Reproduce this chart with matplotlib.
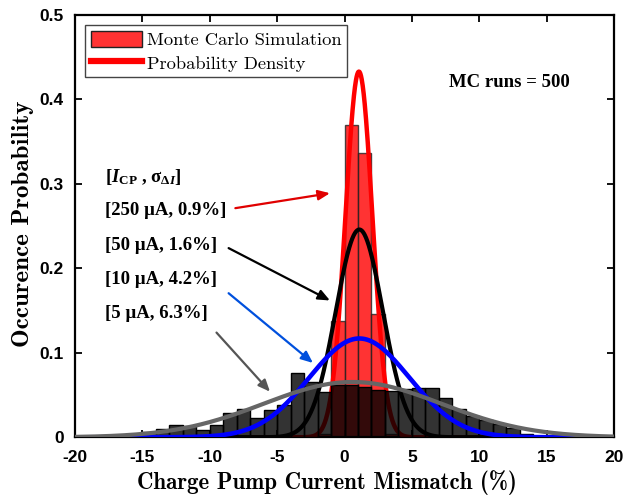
import numpy as np
import matplotlib
matplotlib.use("Agg")
import matplotlib.pyplot as plt
from matplotlib.patches import Patch
from matplotlib.lines import Line2D

# ---------------- data ----------------
# 5 uA Monte Carlo histogram (bin left edges, bin width 1 %)
wide_bin_left = [-15, -14, -13, -12, -11, -10, -9, -8, -7, -6, -5, -4, -3, -2, -1,
                 0, 1, 2, 3, 4, 5, 6, 7, 8, 9, 10, 11, 12, 13]
wide_bin_prob = [0.006, 0.010, 0.015, 0.013, 0.009, 0.015, 0.029, 0.033, 0.023, 0.032,
                 0.038, 0.076, 0.065, 0.054, 0.062, 0.062, 0.060, 0.056, 0.055, 0.057,
                 0.058, 0.058, 0.046, 0.034, 0.025, 0.020, 0.016, 0.011, 0.004]
# 250 uA Monte Carlo histogram
narrow_bin_left = [-2, -1, 0, 1, 2, 3]
narrow_bin_prob = [0.004, 0.138, 0.370, 0.337, 0.146, 0.004]

# fitted probability densities: (mean, sigma, peak)
curve_names = ["250uA", "50uA", "10uA", "5uA"]
curve_mean = [1.07, 1.10, 1.10, 0.60]
curve_sigma = [1.00, 1.75, 3.70, 6.60]
curve_peak = [0.433, 0.246, 0.117, 0.0655]
curve_colors = ["#ff0000", "#000000", "#0000ff", "#666666"]
curve_widths = [3.2, 3.0, 3.3, 3.0]

ann_labels = ["[250 µA, 0.9%]", "[50 µA, 1.6%]", "[10 µA, 4.2%]", "[5 µA, 6.3%]"]
ann_text_y = [0.268, 0.227, 0.187, 0.147]
ann_start = [(-8.1, 0.2713), (-8.6, 0.224), (-8.6, 0.1706), (-9.5, 0.124)]
ann_tip = [(-1.08, 0.289), (-1.08, 0.162), (-2.34, 0.088), (-5.53, 0.054)]
ann_colors = ["#e00000", "#000000", "#0050dd", "#555555"]

xticks = [-20, -15, -10, -5, 0, 5, 10, 15, 20]
xtick_labels = ["-20", "-15", "-10", "-5", "0", "5", "10", "15", "20"]
yticks = [0, 0.1, 0.2, 0.3, 0.4, 0.5]
ytick_labels = ["0", "0.1", "0.2", "0.3", "0.4", "0.5"]

# ---------------- style ----------------
plt.rcParams["mathtext.fontset"] = "custom"
plt.rcParams["mathtext.rm"] = "Liberation Serif:bold"
plt.rcParams["mathtext.it"] = "Liberation Serif:italic:bold"
plt.rcParams["mathtext.bf"] = "Liberation Serif:bold"

fig = plt.figure(figsize=(6.23, 4.97), dpi=100)
ax = fig.add_axes([75 / 623, 1 - 437.3 / 497, 539 / 623, 422.3 / 497])

x = np.linspace(-20, 20, 1601)

# red histogram
ax.bar(narrow_bin_left, narrow_bin_prob, width=1.0, align="edge",
       color="red", alpha=0.8, edgecolor="#222222", linewidth=1.0, zorder=2)
# red density
mu, s, a = curve_mean[0], curve_sigma[0], curve_peak[0]
ax.plot(x, a * np.exp(-(x - mu) ** 2 / (2 * s ** 2)), color=curve_colors[0],
        lw=curve_widths[0], zorder=3, solid_capstyle="butt")
# dark histogram
ax.bar(wide_bin_left, wide_bin_prob, width=1.0, align="edge",
       color=(0, 0, 0, 0.8), edgecolor="black", linewidth=1.0, zorder=4)
# other densities
for i in range(1, 4):
    mu, s, a = curve_mean[i], curve_sigma[i], curve_peak[i]
    ax.plot(x, a * np.exp(-(x - mu) ** 2 / (2 * s ** 2)), color=curve_colors[i],
            lw=curve_widths[i], zorder=5 + i, solid_capstyle="butt")

ax.set_xlim(-20, 20)
ax.set_ylim(0, 0.5)
ax.set_xticks(xticks)
ax.set_xticklabels(xtick_labels)
ax.set_yticks(yticks)
ax.set_yticklabels(ytick_labels)
for lab in ax.get_xticklabels() + ax.get_yticklabels():
    lab.set_fontfamily("Liberation Sans")
    lab.set_fontweight("bold")
    lab.set_fontsize(12.5)
ax.tick_params(direction="in", length=5, width=1.3, top=True, right=True)
ax.tick_params(axis="x", pad=9)
ax.tick_params(axis="y", pad=8)
for sp in ax.spines.values():
    sp.set_linewidth(1.6)

ax.set_xlabel("Charge Pump Current Mismatch (%)", fontfamily="cmb10", fontsize=16.5,
              labelpad=4)
ax.xaxis.label.set_x(0.4675)
ax.set_ylabel("Occurence Probability", fontfamily="cmb10", fontsize=18, labelpad=4)
ax.yaxis.label.set_y(0.505)

# legend
handles = [Patch(facecolor=(1, 0, 0, 0.8), edgecolor="#222222", linewidth=1.0),
           Line2D([0], [0], color="red", lw=4.5)]
leg = ax.legend(handles, ["Monte Carlo Simulation", "Probability Density"],
                loc="upper left", bbox_to_anchor=(0.0186, 0.976), borderaxespad=0,
                prop={"family": "cmr10", "size": 13.3}, fancybox=False,
                edgecolor="#444444", framealpha=1, handlelength=2.8,
                handleheight=1.0, handletextpad=0.25, labelspacing=0.32,
                borderpad=0.3)
leg.get_frame().set_linewidth(1.0)
leg.set_zorder(20)

# annotations
ax.text(-17.8, 0.308, r"[$\mathit{I}_{\mathrm{CP}}$ , σ$_{\Delta\mathit{I}}$]",
        fontfamily="Liberation Serif", fontweight="bold", fontsize=13.5,
        va="center", ha="left", zorder=20)
for lab, ty in zip(ann_labels, ann_text_y):
    ax.text(-17.8, ty, lab, fontfamily="Liberation Serif", fontweight="bold",
            fontsize=13.5, va="center", ha="left", zorder=20)
for st, tp, c in zip(ann_start, ann_tip, ann_colors):
    ax.annotate("", xy=tp, xytext=st,
                arrowprops=dict(arrowstyle="-|>,head_length=0.7,head_width=0.3",
                                color=c, lw=1.6, shrinkA=0, shrinkB=0),
                zorder=20)

ax.text(12.2, 0.42, "MC runs = 500", fontfamily="Liberation Serif", fontweight="bold",
        fontsize=13.5, ha="center", va="center")

fig.savefig("out.png", dpi=100)
